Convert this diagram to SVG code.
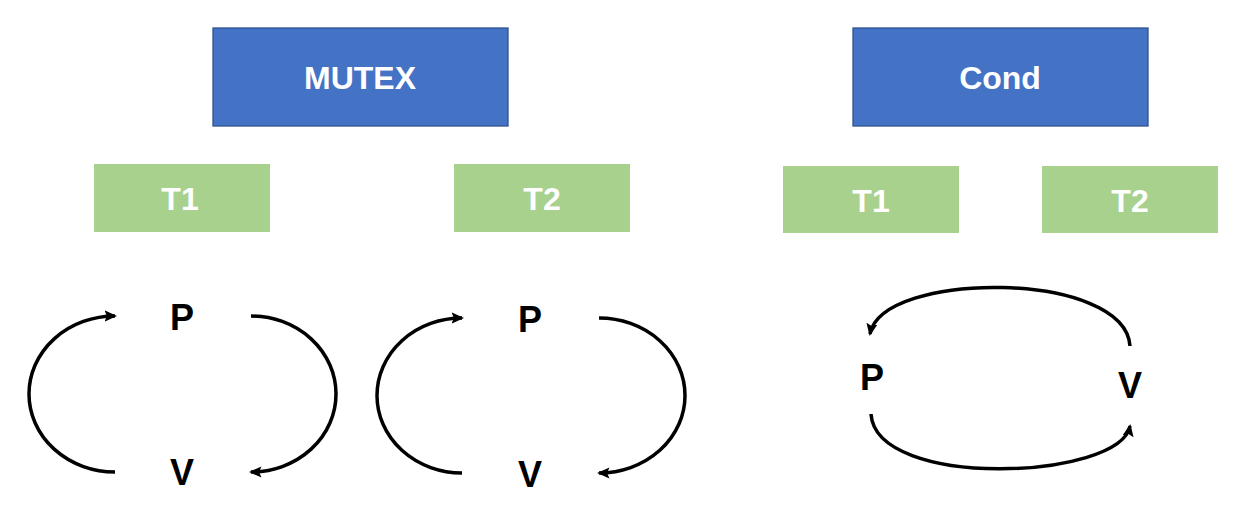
<svg xmlns="http://www.w3.org/2000/svg" width="1238" height="513" viewBox="0 0 1238 513">
<style>
.blue{fill:#4472C4;stroke:#2F528F;stroke-width:1.3}
.green{fill:#A9D18E}
.lbl{font-family:"Liberation Sans",Arial,sans-serif;font-weight:bold;font-size:32px;fill:#fff;text-anchor:middle}
.pv{font-family:"Liberation Sans",Arial,sans-serif;font-weight:bold;font-size:36px;fill:#000;text-anchor:middle}
.arc{fill:none;stroke:#000;stroke-width:3.5;marker-end:url(#ah)}
</style>
<defs>
<marker id="ah" markerWidth="3.6" markerHeight="3.2" refX="3" refY="1.6" orient="auto" markerUnits="strokeWidth">
<path d="M0,0 L3.6,1.6 L0,3.2 L0.7,1.6 Z" fill="#000"/>
</marker>
</defs>
<rect width="1238" height="513" fill="#fff"/>
<g id="mutex"><rect class="blue" x="213" y="28" width="295" height="98"/><text class="lbl" x="360" y="89">MUTEX</text></g>
<g id="cond"><rect class="blue" x="853" y="28" width="295" height="98"/><text class="lbl" x="1000" y="89">Cond</text></g>
<g id="m-t1"><rect class="green" x="94" y="164" width="176" height="68"/><text class="lbl" x="180" y="210">T1</text></g>
<g id="m-t2"><rect class="green" x="454" y="164" width="176" height="68"/><text class="lbl" x="542" y="210">T2</text></g>
<g id="c-t1"><rect class="green" x="783" y="166" width="176" height="67"/><text class="lbl" x="871" y="212">T1</text></g>
<g id="c-t2"><rect class="green" x="1042" y="166" width="176" height="67"/><text class="lbl" x="1130" y="212">T2</text></g>
<g id="m1-p"><text class="pv" x="182" y="330">P</text></g>
<g id="m1-v"><text class="pv" x="182" y="485">V</text></g>
<g id="m2-p"><text class="pv" x="530" y="332">P</text></g>
<g id="m2-v"><text class="pv" x="530" y="487">V</text></g>
<g id="c-p"><text class="pv" x="872" y="390">P</text></g>
<g id="c-v"><text class="pv" x="1130" y="398">V</text></g>
<g id="connectors">
<path class="arc" d="M115,472 A86,78 0 0 1 115,316"/>
<path class="arc" d="M251,316 A85,78 0 0 1 251,472"/>
<path class="arc" d="M462,473 A85,77.5 0 0 1 462,318"/>
<path class="arc" d="M599,318 A86,77.5 0 0 1 599,473"/>
<path class="arc" d="M1130,346 C1125,270 882,270 870,334"/>
<path class="arc" d="M871,414 C876,490 1120,480 1130,426"/>
</g>
</svg>
